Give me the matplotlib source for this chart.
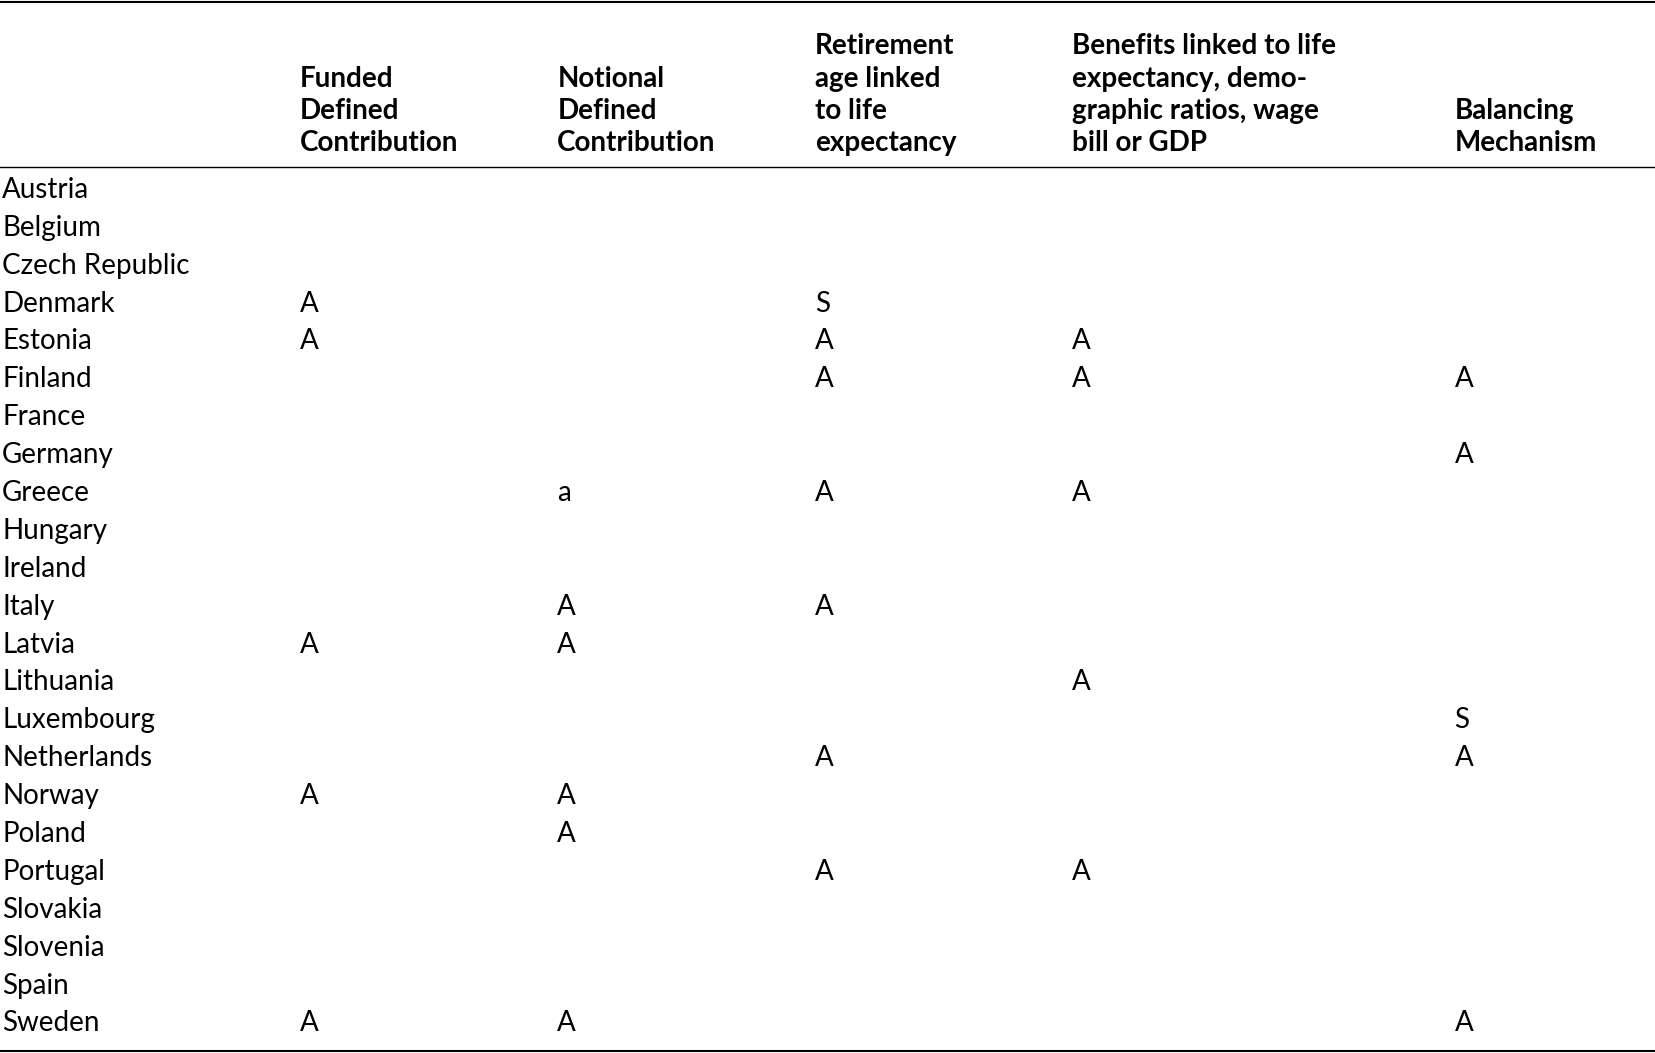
import matplotlib.pyplot as plt

countries = ["Austria", "Belgium", "Czech Republic", "Denmark", "Estonia", "Finland",
             "France", "Germany", "Greece", "Hungary", "Ireland", "Italy", "Latvia",
             "Lithuania", "Luxembourg", "Netherlands", "Norway", "Poland", "Portugal",
             "Slovakia", "Slovenia", "Spain", "Sweden"]
headers = ["Funded\nDefined\nContribution",
           "Notional\nDefined\nContribution",
           "Retirement\nage linked\nto life\nexpectancy",
           "Benefits linked to life\nexpectancy, demo-\ngraphic ratios, wage\nbill or GDP",
           "Balancing\nMechanism"]
# marks per column: {country: letter}
funded_dc = {"Denmark": "A", "Estonia": "A", "Latvia": "A", "Norway": "A", "Sweden": "A"}
notional_dc = {"Greece": "a", "Italy": "A", "Latvia": "A", "Norway": "A", "Poland": "A", "Sweden": "A"}
retirement_age = {"Denmark": "S", "Estonia": "A", "Finland": "A", "Greece": "A", "Italy": "A",
                  "Netherlands": "A", "Portugal": "A"}
benefits_linked = {"Estonia": "A", "Finland": "A", "Greece": "A", "Lithuania": "A", "Portugal": "A"}
balancing = {"Finland": "A", "Germany": "A", "Luxembourg": "S", "Netherlands": "A", "Sweden": "A"}
columns = [funded_dc, notional_dc, retirement_age, benefits_linked, balancing]

plt.rcParams['font.family'] = ['Lato', 'DejaVu Sans']
fig = plt.figure(figsize=(16.55, 10.53), dpi=100)
ax = fig.add_axes([0, 0, 1, 1])
ax.set_xlim(0, 1568)
ax.set_ylim(998, 0)
ax.axis('off')

col_x = [284, 528, 772, 1016, 1378]
fs = 20
for x, h in zip(col_x, headers):
    ax.text(x, 148, h, fontsize=fs, fontweight='bold', va='bottom', ha='left', linespacing=1.3)

ax.plot([0, 1568], [2, 2], color='black', lw=1.5)
ax.plot([0, 1568], [158, 158], color='black', lw=1)
ax.plot([0, 1568], [996, 996], color='black', lw=1.5)

y0, step = 180, (970 - 180) / (len(countries) - 1)
for i, c in enumerate(countries):
    y = y0 + i * step
    ax.text(2, y, c, fontsize=fs, va='center', ha='left')
    for x, col in zip(col_x, columns):
        if c in col:
            ax.text(x, y, col[c], fontsize=fs, va='center', ha='left')

fig.savefig("out.png", dpi=100)
